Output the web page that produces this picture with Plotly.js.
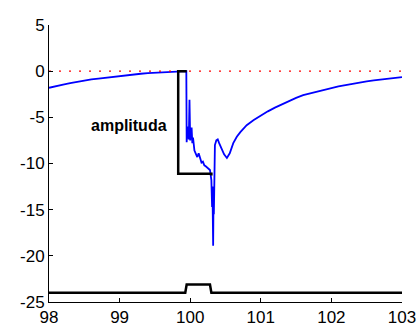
<!DOCTYPE html>
<html>
<head>
<meta charset="utf-8">
<script src="https://cdn.plot.ly/plotly-3.0.1.min.js"></script>
<style>html,body{margin:0;padding:0;background:#fff;}#chart{width:418px;height:329px;}</style>
</head>
<body>
<div id="chart"></div>
<script>
// Measured response (blue)
var respX = [98.0, 98.1, 98.2, 98.3, 98.4, 98.5, 98.6, 98.7, 98.8, 98.9, 99.0, 99.1, 99.2, 99.3, 99.4, 99.5, 99.6, 99.7, 99.8, 99.9, 99.93,
  99.94, 99.945, 99.95, 99.96, 99.98, 99.99, 100.0, 100.02, 100.03, 100.04, 100.06, 100.08, 100.1, 100.12, 100.14, 100.16, 100.18, 100.2, 100.22, 100.25, 100.28,
  100.3, 100.31, 100.315, 100.325, 100.33, 100.335, 100.34, 100.35, 100.37, 100.39, 100.41, 100.45, 100.48, 100.52, 100.56, 100.61, 100.66, 100.71,
  100.8, 100.9, 101.0, 101.1, 101.2, 101.3, 101.4, 101.5, 101.6, 101.7, 101.8, 101.9, 102.0, 102.1, 102.2, 102.3, 102.4, 102.5, 102.6, 102.7, 102.8, 102.9, 103.0];
var respY = [-1.8, -1.6, -1.45, -1.3, -1.15, -1.0, -0.9, -0.8, -0.7, -0.6, -0.5, -0.42, -0.35, -0.28, -0.22, -0.17, -0.12, -0.08, -0.05, -0.02, 0.0,
  0.0, 0.0, -7.7, -6.0, -7.4, -3.1, -7.5, -6.1, -7.8, -7.2, -8.6, -8.9, -9.3, -8.9, -9.4, -9.9, -9.8, -10.2, -10.3, -10.5, -10.7,
  -11.8, -14.7, -12.5, -18.9, -14.0, -15.5, -13.2, -8.0, -7.5, -7.4, -7.8, -8.4, -9.0, -9.4, -8.9, -7.8, -7.1, -6.6,
  -5.85, -5.3, -4.8, -4.35, -3.95, -3.6, -3.2, -2.9, -2.6, -2.4, -2.2, -2.0, -1.8, -1.65, -1.5, -1.35, -1.25, -1.1, -1.0, -0.9, -0.8, -0.72, -0.65];

// Step marking the amplitude (black)
var stepX = [99.95, 99.83, 99.83, 100.3, 100.3];
var stepY = [0, 0, -11.1, -11.1, -11.3];

// Stimulus pulse trace (bottom)
var pulseX = [98, 99.93, 99.95, 100.28, 100.3, 103];
var pulseY = [-24, -24, -23.1, -23.1, -24, -24];

// Reference zero level (red dotted)
var refX = [98, 103];
var refY = [0, 0];

var xTicks = [98, 99, 100, 101, 102, 103];
var yTicks = [5, 0, -5, -10, -15, -20, -25];
var labelText = 'amplituda';
var labelPos = [99.14, -5.9];

var traces = [
  {x: respX, y: respY, mode: 'lines', line: {color: '#0000ff', width: 1.8}, hoverinfo: 'none'},
  {x: refX, y: refY, mode: 'lines', line: {color: '#ff0000', width: 1.2, dash: '2px,8px'}, hoverinfo: 'none'},
  {x: stepX, y: stepY, mode: 'lines', line: {color: '#000000', width: 2.5}, hoverinfo: 'none'},
  {x: pulseX, y: pulseY, mode: 'lines', line: {color: '#000000', width: 2.5}, hoverinfo: 'none'}
];

var layout = {
  width: 418, height: 329,
  margin: {l: 49, r: 16, t: 25, b: 27, pad: 0},
  paper_bgcolor: '#ffffff', plot_bgcolor: '#ffffff',
  showlegend: false,
  font: {family: 'Liberation Sans, Arial, sans-serif', size: 17, color: '#000'},
  xaxis: {range: [98, 103], tickvals: xTicks, ticktext: xTicks.map(String), ticks: 'inside', ticklen: 4, tickcolor: '#000', tickwidth: 1,
    showline: true, linecolor: '#000', linewidth: 1, showgrid: false, zeroline: false, fixedrange: true},
  yaxis: {range: [-25, 5], tickvals: yTicks, ticktext: yTicks.map(String), ticks: 'inside', ticklen: 4, tickcolor: '#000', tickwidth: 1,
    showline: true, linecolor: '#000', linewidth: 1, showgrid: false, zeroline: false, fixedrange: true},
  annotations: [{x: labelPos[0], y: labelPos[1], xref: 'x', yref: 'y', text: '<b>' + labelText + '</b>', showarrow: false,
    font: {family: 'Liberation Sans, Arial, sans-serif', size: 16, color: '#000'}, xanchor: 'center', yanchor: 'middle'}]
};

Plotly.newPlot('chart', traces, layout, {staticPlot: true, displayModeBar: false});
</script>
</body>
</html>
